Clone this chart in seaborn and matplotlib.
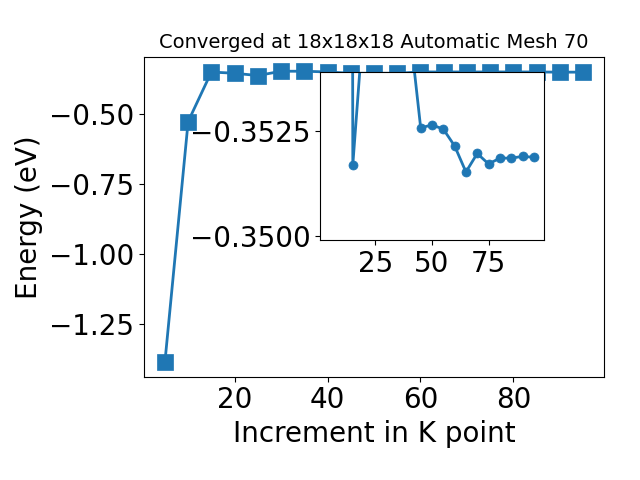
import matplotlib
matplotlib.use("Agg")
import matplotlib.pyplot as plt
import seaborn as sns
import pandas as pd

k_points = [5, 10, 15, 20, 25, 30, 35, 40, 45, 50, 55, 60, 65, 70, 75, 80, 85, 90, 95]
energy = [-1.3878, -0.5265, -0.3493, -0.3536, -0.3619, -0.3464, -0.3464, -0.3490,
          -0.3536, -0.3536, -0.3536, -0.3490, -0.3490, -0.3490, -0.3490, -0.3490,
          -0.3490, -0.3497, -0.3497]
energy_zoom = [-1.3878, -0.5265, -0.35169, -0.3553, -0.3619, -0.3560, -0.3560, -0.3550,
               -0.35257, -0.35264, -0.35254, -0.35214, -0.35152, -0.35196, -0.35171,
               -0.35185, -0.35185, -0.35189, -0.35187]
title = "Converged at 18x18x18 Automatic Mesh 70"
xlabel = "Increment in K point"
ylabel = "Energy (eV)"
inset_xticks = [25, 50, 75]
inset_yticks = [-0.3525, -0.3500]
inset_ylim = (-0.3499, -0.3539)

df = pd.DataFrame({"k": k_points, "e": energy, "ez": energy_zoom})
c0 = "#1f77b4"

fig = plt.figure(figsize=(6.4, 4.8), dpi=100)
ax = fig.add_axes([0.225, 0.2152, 0.7187, 0.6667])
sns.lineplot(data=df, x="k", y="e", ax=ax, marker="s", markersize=11,
             linewidth=2, color=c0, markeredgecolor=c0, markeredgewidth=0.5)
ax.set_xlabel(xlabel, fontsize=20)
ax.set_ylabel(ylabel, fontsize=20)
ax.tick_params(labelsize=20)
ax.set_title(title, fontsize=14)

axin = fig.add_axes([0.5, 0.5, 0.35, 0.35])
sns.lineplot(data=df, x="k", y="ez", ax=axin, marker="o", markersize=6.5,
             linewidth=2, color=c0, markeredgecolor=c0, markeredgewidth=0.5)
axin.set_ylim(*inset_ylim)
axin.set_yticks(inset_yticks)
axin.set_xticks(inset_xticks)
axin.set_xlabel("")
axin.set_ylabel("")
axin.tick_params(labelsize=20)

fig.savefig("out.png", dpi=100)
